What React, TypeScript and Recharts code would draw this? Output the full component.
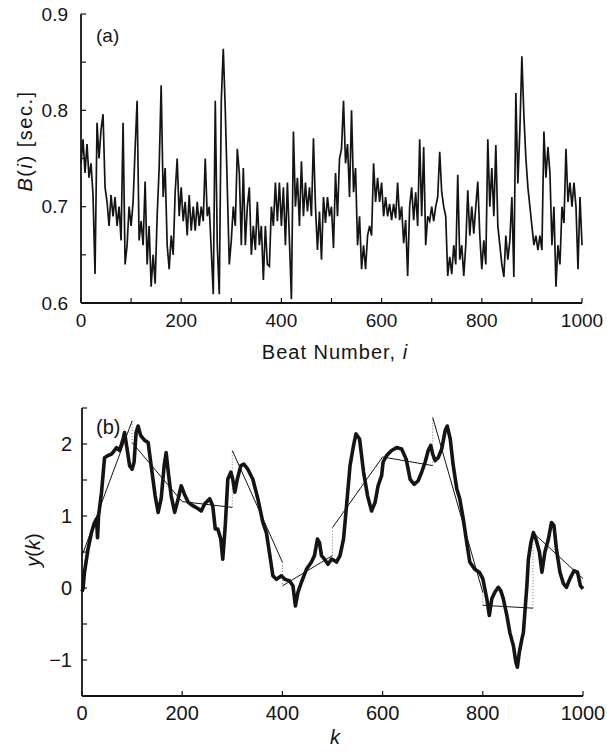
import React from 'react';
import { LineChart, Line, XAxis, YAxis } from 'recharts';

const FONT = '"Liberation Sans", Arial, Helvetica, sans-serif';
const INK = '#141414';

// ---------- Panel (a): beat-to-beat interval B(i), read every BEAT_STEP beats ----------
const BEAT_STEP = 4;
const beatsPart1 = [ // beats 0-196
  0.745, 0.77, 0.735, 0.765, 0.73, 0.745, 0.712, 0.63, 0.787, 0.75,
  0.78, 0.796, 0.72, 0.705, 0.68, 0.712, 0.69, 0.71, 0.68, 0.7,
  0.665, 0.787, 0.64, 0.66, 0.7, 0.68, 0.705, 0.76, 0.81, 0.665,
  0.685, 0.66, 0.726, 0.64, 0.68, 0.617, 0.65, 0.62, 0.69, 0.74,
  0.826, 0.71, 0.74, 0.66, 0.635, 0.67, 0.65, 0.715, 0.75, 0.69,
];
const beatsPart2 = [ // beats 200-396
  0.72, 0.685, 0.705, 0.67, 0.712, 0.675, 0.7, 0.675, 0.705, 0.68,
  0.7, 0.685, 0.75, 0.69, 0.7, 0.655, 0.609, 0.81, 0.66, 0.609,
  0.81, 0.864, 0.8, 0.72, 0.64, 0.665, 0.7, 0.68, 0.76, 0.735,
  0.66, 0.74, 0.66, 0.7, 0.72, 0.65, 0.68, 0.655, 0.705, 0.66,
  0.68, 0.624, 0.68, 0.64, 0.638, 0.7, 0.68, 0.725, 0.685, 0.725,
];
const beatsPart3 = [ // beats 400-596
  0.68, 0.72, 0.66, 0.725, 0.665, 0.604, 0.778, 0.7, 0.73, 0.68,
  0.747, 0.69, 0.725, 0.695, 0.72, 0.69, 0.771, 0.7, 0.655, 0.695,
  0.645, 0.71, 0.683, 0.71, 0.69, 0.7, 0.657, 0.735, 0.69, 0.75,
  0.76, 0.81, 0.745, 0.765, 0.71, 0.8, 0.715, 0.74, 0.66, 0.69,
  0.635, 0.66, 0.635, 0.67, 0.68, 0.67, 0.745, 0.705, 0.73, 0.705,
];
const beatsPart4 = [ // beats 600-796
  0.725, 0.69, 0.71, 0.69, 0.703, 0.686, 0.703, 0.688, 0.725, 0.686,
  0.7, 0.662, 0.686, 0.628, 0.7, 0.72, 0.686, 0.715, 0.68, 0.77,
  0.69, 0.762, 0.66, 0.69, 0.685, 0.7, 0.685, 0.7, 0.71, 0.757,
  0.715, 0.7, 0.69, 0.628, 0.648, 0.63, 0.66, 0.64, 0.733, 0.645,
  0.66, 0.628, 0.66, 0.717, 0.67, 0.7, 0.672, 0.7, 0.726, 0.67,
];
const beatsPart5 = [ // beats 800-1000
  0.635, 0.665, 0.64, 0.77, 0.7, 0.74, 0.69, 0.764, 0.68, 0.66,
  0.64, 0.627, 0.67, 0.645, 0.665, 0.71, 0.627, 0.818, 0.724, 0.78,
  0.856, 0.795, 0.75, 0.72, 0.7, 0.68, 0.66, 0.67, 0.655, 0.67,
  0.655, 0.778, 0.73, 0.762, 0.735, 0.66, 0.7, 0.617, 0.66, 0.64,
  0.7, 0.683, 0.76, 0.705, 0.725, 0.7, 0.725, 0.7, 0.635, 0.71, 0.66,
];
const beatValues = [...beatsPart1, ...beatsPart2, ...beatsPart3, ...beatsPart4, ...beatsPart5];
const beatData = beatValues.map((b, n) => ({ i: n * BEAT_STEP, b }));

const xTicksA = [0, 100, 200, 300, 400, 500, 600, 700, 800, 900, 1000];
const yTicksA = [0.6, 0.65, 0.7, 0.75, 0.8, 0.85, 0.9];

// ---------- Panel (b): integrated series y(k) and box-wise linear fits ----------
const ykPoints: [number, number][] = [
  [0, -0.05], [2, -0.01], [5, 0.22], [12, 0.54], [19, 0.77], [24, 0.89], [29, 0.96], [31, 0.7],
  [33, 1.0], [39, 1.33], [45, 1.81], [52, 1.84], [59, 1.86], [69, 1.95], [75, 1.91], [82, 2.07],
  [85, 2.16], [90, 1.93], [95, 1.7], [100, 1.65], [104, 1.75], [108, 2.16], [112, 2.25], [117, 2.12],
  [125, 2.05], [132, 2.02], [138, 1.7], [146, 1.28], [152, 1.05], [158, 1.24], [164, 1.7], [168, 1.88],
  [173, 1.56], [178, 1.28], [185, 1.05], [192, 1.24], [198, 1.42], [204, 1.31], [212, 1.19], [222, 1.14],
  [232, 1.1], [238, 1.07], [245, 1.17], [255, 1.24], [261, 1.14], [266, 0.82], [271, 0.82], [277, 0.68],
  [281, 0.4], [286, 0.87], [291, 1.51], [297, 1.61], [301, 1.51], [305, 1.33], [310, 1.51], [317, 1.7],
  [323, 1.72], [331, 1.65], [341, 1.51], [351, 1.24], [361, 0.91], [368, 0.77], [375, 0.45], [381, 0.17],
  [388, 0.12], [398, 0.17], [405, 0.12], [414, 0.1], [421, 0.03], [426, -0.25], [431, -0.06], [438, 0.08],
  [448, 0.26], [458, 0.36], [464, 0.45], [470, 0.68], [474, 0.63], [478, 0.45], [484, 0.4], [491, 0.33],
  [498, 0.4], [504, 0.38], [508, 0.36], [515, 0.45], [522, 0.68], [528, 1.14], [535, 1.7], [542, 1.98],
  [547, 2.14], [554, 2.07], [562, 1.61], [570, 1.28], [578, 1.07], [585, 1.19], [591, 1.42], [598, 1.56],
  [601, 1.75], [608, 1.84], [618, 1.91], [628, 1.95], [638, 1.93], [647, 1.79], [655, 1.51], [663, 1.44],
  [671, 1.49], [678, 1.61], [685, 1.75], [691, 1.91], [696, 1.98], [700, 1.86], [705, 1.77], [711, 1.81],
  [718, 1.93], [725, 2.19], [729, 2.25], [735, 2.07], [741, 1.7], [748, 1.38], [754, 1.24], [761, 0.96],
  [768, 0.63], [774, 0.36], [784, 0.26], [793, 0.22], [800, 0.13], [804, -0.01], [808, -0.15], [813, -0.38],
  [818, -0.15], [824, -0.06], [831, 0.01], [836, -0.04], [841, -0.15], [848, -0.38], [854, -0.62], [861, -0.8],
  [866, -1.03], [869, -1.1], [873, -0.89], [878, -0.71], [881, -0.62], [884, -0.34], [888, 0.03], [891, 0.4],
  [896, 0.63], [901, 0.77], [906, 0.68], [913, 0.5], [918, 0.22], [924, 0.5], [931, 0.68], [937, 0.91],
  [942, 0.87], [947, 0.54], [954, 0.22], [961, 0.06], [967, 0.01], [974, 0.13], [982, 0.24], [989, 0.22],
  [995, 0.03], [1000, -0.01],
];
const ykData = ykPoints.map(([k, y]) => ({ k, y }));

const boxEdges = [0, 100, 200, 300, 400, 500, 600, 700, 800, 900, 1000];
const fitStart = [0.45, 2.02, 1.2, 1.91, 0.03, 0.84, 1.82, 2.37, -0.24, 0.77];
const fitEnd = [2.32, 1.2, 1.12, 0.36, 0.45, 1.82, 1.7, -0.06, -0.28, 0.13];

const fitData: { k: number; f: number | null }[] = [];
fitStart.forEach((s, j) => {
  fitData.push({ k: boxEdges[j], f: s });
  fitData.push({ k: boxEdges[j + 1], f: fitEnd[j] });
  fitData.push({ k: boxEdges[j + 1], f: null });
});
const connData: { k: number; c: number | null }[] = [];
for (let j = 1; j < fitStart.length; j++) {
  connData.push({ k: boxEdges[j], c: fitEnd[j - 1] });
  connData.push({ k: boxEdges[j], c: fitStart[j] });
  connData.push({ k: boxEdges[j], c: null });
}

const xTicksB = [0, 200, 400, 600, 800, 1000];
const yTicksB = [-1.5, -1, -0.5, 0, 0.5, 1, 1.5, 2, 2.5];

const fmtA = (v: number) => (Math.abs(v * 10 - Math.round(v * 10)) < 1e-6 ? v.toFixed(1) : '');
const fmtXA = (v: number) => (v % 200 === 0 ? String(v) : '');
const fmtYB = (v: number) => (Number.isInteger(v) ? (v < 0 ? '\u2212' + Math.abs(v) : String(v)) : '');

const axisLine = { stroke: INK, strokeWidth: 1.8 };
const tickLine = { stroke: INK, strokeWidth: 1.2 };

export default function App() {
  const tickA = { fontSize: 19, fill: INK, fontFamily: FONT };
  const tickB = { fontSize: 20, fill: INK, fontFamily: FONT };
  return (
    <div style={{ position: 'absolute', left: 0, top: 0, width: 607, height: 752, background: '#fff' }}>
      <div style={{ position: 'absolute', left: 0, top: 0 }}>
        <LineChart width={607} height={370} data={beatData} margin={{ top: 14, right: 25, left: 0, bottom: 37 }}>
          <XAxis xAxisId="b" dataKey="i" type="number" domain={[0, 1000]} ticks={xTicksA} tickFormatter={fmtXA}
            tickSize={-5} tickMargin={16} height={30} axisLine={axisLine} tickLine={tickLine} tick={tickA} interval={0} />
          <XAxis xAxisId="t" orientation="top" dataKey="i" type="number" domain={[0, 1000]} ticks={xTicksA}
            tick={false} tickSize={-5} height={0} axisLine={axisLine} tickLine={tickLine} interval={0} />
          <YAxis yAxisId="l" type="number" domain={[0.6, 0.9]} ticks={yTicksA} tickFormatter={fmtA}
            tickSize={-5} tickMargin={18} width={81} axisLine={axisLine} tickLine={tickLine} tick={tickA} interval={0} />
          <YAxis yAxisId="r" orientation="right" type="number" domain={[0.6, 0.9]} ticks={yTicksA}
            tick={false} tickSize={-5} width={0} axisLine={axisLine} tickLine={tickLine} interval={0} />
          <Line xAxisId="b" yAxisId="l" dataKey="b" type="linear" stroke={INK} strokeWidth={1.7} dot={false} isAnimationActive={false} />
          <Line xAxisId="t" yAxisId="r" dataKey="b" type="linear" stroke="none" dot={false} isAnimationActive={false} />
        </LineChart>
      </div>
      <div style={{ position: 'absolute', left: 0, top: 380 }}>
        <LineChart width={607} height={372} margin={{ top: 28, right: 24, left: 0, bottom: 26 }}>
          <XAxis xAxisId="b" dataKey="k" type="number" domain={[0, 1000]} ticks={xTicksB}
            tickSize={-5} tickMargin={15} height={30} axisLine={axisLine} tickLine={tickLine} tick={tickB} interval={0} />
          <XAxis xAxisId="t" orientation="top" dataKey="k" type="number" domain={[0, 1000]} ticks={xTicksB}
            tick={false} tickSize={-5} height={0} axisLine={axisLine} tickLine={tickLine} interval={0} />
          <YAxis yAxisId="l" type="number" domain={[-1.5, 2.5]} ticks={yTicksB} tickFormatter={fmtYB}
            tickSize={-5} tickMargin={15} width={82} axisLine={axisLine} tickLine={tickLine} tick={tickB} interval={0} />
          <YAxis yAxisId="r" orientation="right" type="number" domain={[-1.5, 2.5]} ticks={yTicksB}
            tick={false} tickSize={-5} width={0} axisLine={axisLine} tickLine={tickLine} interval={0} />
          <Line xAxisId="b" yAxisId="l" data={connData} dataKey="c" type="linear" stroke="#777" strokeWidth={1}
            strokeDasharray="1 2" dot={false} connectNulls={false} isAnimationActive={false} />
          <Line xAxisId="b" yAxisId="l" data={fitData} dataKey="f" type="linear" stroke={INK} strokeWidth={1}
            dot={false} connectNulls={false} isAnimationActive={false} />
          <Line xAxisId="b" yAxisId="l" data={ykData} dataKey="y" type="linear" stroke={INK} strokeWidth={3.6}
            strokeLinejoin="round" dot={false} isAnimationActive={false} />
          <Line xAxisId="t" yAxisId="r" data={ykData} dataKey="y" type="linear" stroke="none" dot={false} isAnimationActive={false} />
        </LineChart>
      </div>
      <svg width={607} height={752} style={{ position: 'absolute', left: 0, top: 0, pointerEvents: 'none' }}
        fontFamily={FONT} fill={INK}>
        <text x={96} y={42} fontSize={19}>(a)</text>
        <text x={335} y={359} fontSize={20} textAnchor="middle" letterSpacing={1}>
          Beat Number, <tspan fontStyle="italic">i</tspan>
        </text>
        <text transform="translate(32,141) rotate(-90)" fontSize={20} textAnchor="middle" letterSpacing={1.5}>
          <tspan fontStyle="italic">B</tspan>(<tspan fontStyle="italic">i</tspan>) [sec.]
        </text>
        <text x={96} y={434} fontSize={20}>(b)</text>
        <text transform="translate(40,550) rotate(-90)" fontSize={20} textAnchor="middle">
          <tspan fontStyle="italic">y</tspan>(<tspan fontStyle="italic">k</tspan>)
        </text>
        <text x={335} y={744} fontSize={20} textAnchor="middle" fontStyle="italic">k</text>
      </svg>
    </div>
  );
}
